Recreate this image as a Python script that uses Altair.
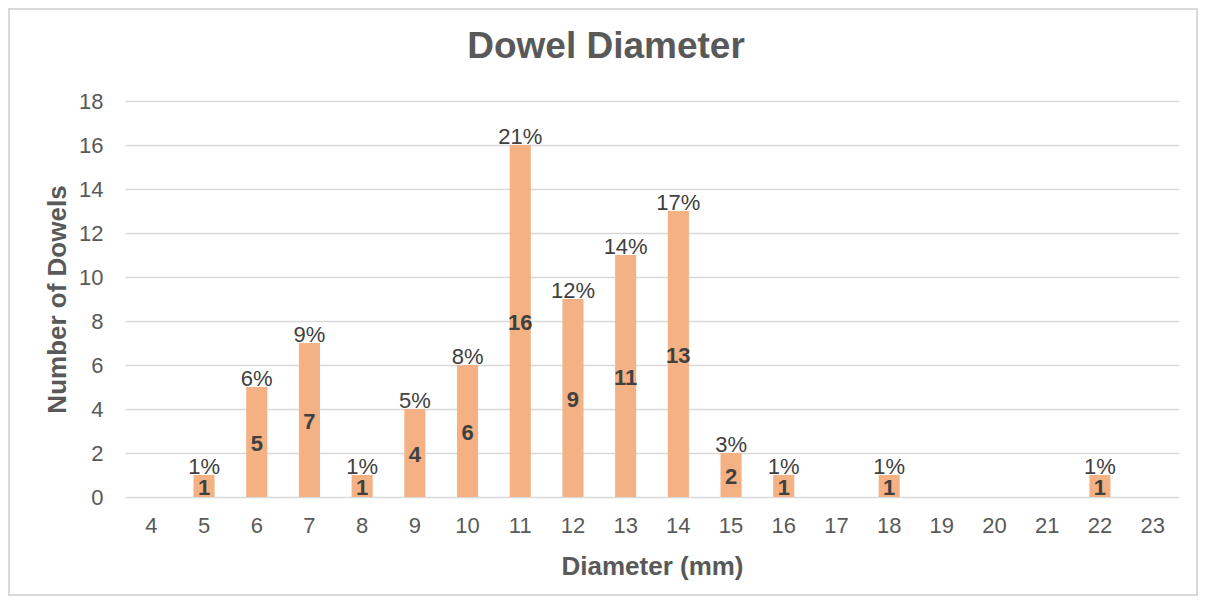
import altair as alt
import pandas as pd

diameters = ["4", "5", "6", "7", "8", "9", "10", "11", "12", "13", "14", "15",
             "16", "17", "18", "19", "20", "21", "22", "23"]
counts = [0, 1, 5, 7, 1, 4, 6, 16, 9, 11, 13, 2, 1, 0, 1, 0, 0, 0, 1, 0]
pct_labels = ["", "1%", "6%", "9%", "1%", "5%", "8%", "21%", "12%", "14%", "17%", "3%",
              "1%", "", "1%", "", "", "", "1%", ""]

df = pd.DataFrame({"Diameter": diameters, "Count": counts, "Pct": pct_labels})

FONT = "Liberation Sans"
GRAY = "#595959"
DARK = "#404040"

x_enc = alt.X("Diameter:N", sort=diameters,
              scale=alt.Scale(paddingInner=0.6, paddingOuter=0.3),
              axis=alt.Axis(title="Diameter (mm)", labelAngle=0, labelFontSize=22,
                            labelColor=GRAY, labelFont=FONT, labelPadding=18,
                            titleFontSize=26, titleColor=GRAY, titleFont=FONT,
                            titleFontWeight="bold", titlePadding=17,
                            domain=False, ticks=False))
y_enc = alt.Y("Count:Q",
              scale=alt.Scale(domain=[0, 18]),
              axis=alt.Axis(title="Number of Dowels", values=list(range(0, 19, 2)),
                            labelFontSize=22, labelColor=GRAY, labelFont=FONT,
                            labelPadding=22, titleFontSize=26, titleColor=GRAY,
                            titleFont=FONT, titleFontWeight="bold", titlePadding=8,
                            domain=False, ticks=False, gridColor="#d9d9d9",
                            gridWidth=1.5))

base = alt.Chart(df)

bars = base.mark_bar(color="#F4B183").encode(x=x_enc, y=y_enc)

pct = base.transform_filter("datum.Count > 0").mark_text(
    baseline="alphabetic", dy=-1, fontSize=22, font=FONT, color=DARK
).encode(x=alt.X("Diameter:N", sort=diameters), y="Count:Q", text="Pct:N")

cnt = base.transform_filter("datum.Count > 0").transform_calculate(
    mid="datum.Count / 2"
).mark_text(baseline="middle", fontSize=22, font=FONT, fontWeight="bold",
            color=DARK, dy=2).encode(
    x=alt.X("Diameter:N", sort=diameters), y="mid:Q", text="Count:Q")

border = base.mark_rect(fill=None, stroke="#d9d9d9", strokeWidth=1.5, clip=False).encode(
    x=alt.value(-116), x2=alt.value(1072), y=alt.value(-92), y2=alt.value(494))

chart = alt.layer(border, bars, pct, cnt).properties(
    width=1054, height=396,
    autosize=alt.AutoSizeParams(type="none"),
    padding={"left": 117, "top": 93, "right": 20, "bottom": 100},
    title=alt.TitleParams("Dowel Diameter", fontSize=37, font=FONT, fontWeight="bold",
                          color=GRAY, anchor="middle", dx=-46, offset=-87,
                          baseline="alphabetic")
).configure_view(stroke=None)

chart.save("out.html", embed_options={"renderer": "svg", "actions": False})
